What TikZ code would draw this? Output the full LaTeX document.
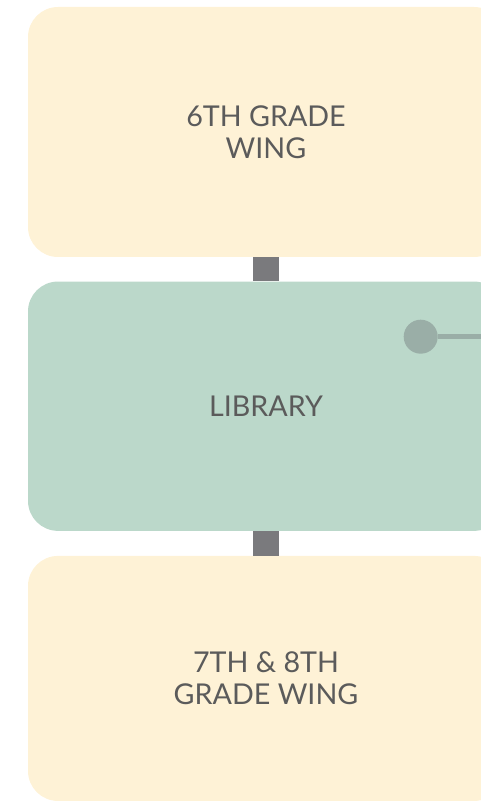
\documentclass[tikz,border=0pt]{standalone}
\usepackage{fontspec}
\setmainfont{Lato}
\usetikzlibrary{positioning}

\definecolor{wingfill}{HTML}{FEF2D6}
\definecolor{libfill}{HTML}{BBD8CA}
\definecolor{linkgray}{HTML}{7A7A7D}
\definecolor{dotgray}{HTML}{9AAEA7}
\definecolor{labelgray}{HTML}{5B5B5B}

\begin{document}
\begin{tikzpicture}[
  x=0.75pt, y=0.75pt,
  every node/.style={font=\fontsize{21.5}{24}\selectfont, text=labelgray},
  room/.style = {align=center, rounded corners=22.5pt, minimum width=357pt, inner sep=0pt},
  wing/.style = {room, fill=wingfill},
  lib/.style  = {room, fill=libfill, minimum height=187pt},
  link/.style = {linkgray, line width=19.5pt},
  dot/.style  = {circle, fill=dotgray, inner sep=0pt, minimum size=25.5pt},
  tap/.style  = {dotgray, line width=3.8pt},
]
  \useasboundingbox (0,0) rectangle (481,801);
  \clip (0,0) rectangle (481,801);
  \node[wing, minimum height=187.5pt] (wing6) at (266,669) {6TH GRADE\\WING};
  \node[lib, below=18pt of wing6]     (library) {LIBRARY};
  \node[wing, minimum height=183.75pt, below=18.4pt of library] (wing78) {7TH \& 8TH\\GRADE WING};
  \draw[link] (wing6.south) -- (library.north);
  \draw[link] (library.south) -- (wing78.north);
  \node[dot] (desk) at (420.7,464.3) {};
  \coordinate (edge) at (490,464.3);
  \draw[tap] (desk.east) -- (edge);
\end{tikzpicture}
\end{document}
